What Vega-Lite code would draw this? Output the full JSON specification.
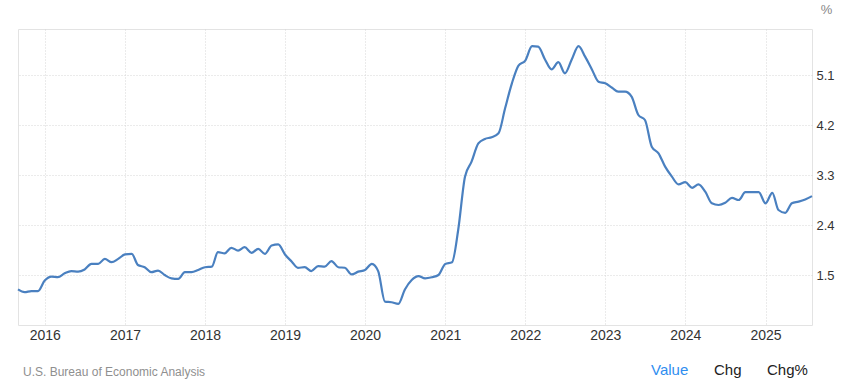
{
  "$schema": "https://vega.github.io/schema/vega-lite/v6.json",
  "width": 794,
  "height": 296,
  "autosize": {"type": "none"},
  "padding": {"left": 18, "top": 29, "right": 33, "bottom": 63},
  "background": "white",
  "config": {"view": {"stroke": "#e3e3e3"}, "font": "Liberation Sans"},
  "title": {"text": "U.S. Bureau of Economic Analysis", "orient": "bottom", "anchor": "start", "frame": "group", "dx": 5, "dy": -16, "offset": 5, "fontSize": 12, "fontWeight": "normal", "color": "#8f8f8f", "font": "Liberation Sans"},
  "data": {"values": [
    {"date": "2015-09-01", "value": 1.24}, {"date": "2015-10-01", "value": 1.19}, {"date": "2015-11-01", "value": 1.21}, {"date": "2015-12-01", "value": 1.21},
    {"date": "2016-01-01", "value": 1.40}, {"date": "2016-02-01", "value": 1.47}, {"date": "2016-03-01", "value": 1.46}, {"date": "2016-04-01", "value": 1.53},
    {"date": "2016-05-01", "value": 1.57}, {"date": "2016-06-01", "value": 1.56}, {"date": "2016-07-01", "value": 1.60}, {"date": "2016-08-01", "value": 1.70},
    {"date": "2016-09-01", "value": 1.70}, {"date": "2016-10-01", "value": 1.79}, {"date": "2016-11-01", "value": 1.73}, {"date": "2016-12-01", "value": 1.79},
    {"date": "2017-01-01", "value": 1.87}, {"date": "2017-02-01", "value": 1.88}, {"date": "2017-03-01", "value": 1.68}, {"date": "2017-04-01", "value": 1.64},
    {"date": "2017-05-01", "value": 1.55}, {"date": "2017-06-01", "value": 1.58}, {"date": "2017-07-01", "value": 1.50}, {"date": "2017-08-01", "value": 1.44},
    {"date": "2017-09-01", "value": 1.43}, {"date": "2017-10-01", "value": 1.55}, {"date": "2017-11-01", "value": 1.55}, {"date": "2017-12-01", "value": 1.59},
    {"date": "2018-01-01", "value": 1.64}, {"date": "2018-02-01", "value": 1.65}, {"date": "2018-03-01", "value": 1.91}, {"date": "2018-04-01", "value": 1.89},
    {"date": "2018-05-01", "value": 1.99}, {"date": "2018-06-01", "value": 1.94}, {"date": "2018-07-01", "value": 2.00}, {"date": "2018-08-01", "value": 1.90},
    {"date": "2018-09-01", "value": 1.97}, {"date": "2018-10-01", "value": 1.88}, {"date": "2018-11-01", "value": 2.03}, {"date": "2018-12-01", "value": 2.05},
    {"date": "2019-01-01", "value": 1.87}, {"date": "2019-02-01", "value": 1.74}, {"date": "2019-03-01", "value": 1.63}, {"date": "2019-04-01", "value": 1.64},
    {"date": "2019-05-01", "value": 1.57}, {"date": "2019-06-01", "value": 1.66}, {"date": "2019-07-01", "value": 1.65}, {"date": "2019-08-01", "value": 1.75},
    {"date": "2019-09-01", "value": 1.64}, {"date": "2019-10-01", "value": 1.63}, {"date": "2019-11-01", "value": 1.51}, {"date": "2019-12-01", "value": 1.56},
    {"date": "2020-01-01", "value": 1.59}, {"date": "2020-02-01", "value": 1.70}, {"date": "2020-03-01", "value": 1.57}, {"date": "2020-04-01", "value": 1.02},
    {"date": "2020-05-01", "value": 1.01}, {"date": "2020-06-01", "value": 0.98}, {"date": "2020-07-01", "value": 1.24}, {"date": "2020-08-01", "value": 1.41},
    {"date": "2020-09-01", "value": 1.48}, {"date": "2020-10-01", "value": 1.44}, {"date": "2020-11-01", "value": 1.46}, {"date": "2020-12-01", "value": 1.50},
    {"date": "2021-01-01", "value": 1.70}, {"date": "2021-02-01", "value": 1.73}, {"date": "2021-03-01", "value": 2.31}, {"date": "2021-04-01", "value": 3.27},
    {"date": "2021-05-01", "value": 3.54}, {"date": "2021-06-01", "value": 3.87}, {"date": "2021-07-01", "value": 3.95}, {"date": "2021-08-01", "value": 3.98},
    {"date": "2021-09-01", "value": 4.05}, {"date": "2021-10-01", "value": 4.50}, {"date": "2021-11-01", "value": 4.95}, {"date": "2021-12-01", "value": 5.27},
    {"date": "2022-01-01", "value": 5.36}, {"date": "2022-02-01", "value": 5.62}, {"date": "2022-03-01", "value": 5.61}, {"date": "2022-04-01", "value": 5.38},
    {"date": "2022-05-01", "value": 5.20}, {"date": "2022-06-01", "value": 5.33}, {"date": "2022-07-01", "value": 5.13}, {"date": "2022-08-01", "value": 5.38},
    {"date": "2022-09-01", "value": 5.62}, {"date": "2022-10-01", "value": 5.43}, {"date": "2022-11-01", "value": 5.20}, {"date": "2022-12-01", "value": 4.98},
    {"date": "2023-01-01", "value": 4.95}, {"date": "2023-02-01", "value": 4.87}, {"date": "2023-03-01", "value": 4.80}, {"date": "2023-04-01", "value": 4.80},
    {"date": "2023-05-01", "value": 4.71}, {"date": "2023-06-01", "value": 4.38}, {"date": "2023-07-01", "value": 4.29}, {"date": "2023-08-01", "value": 3.81},
    {"date": "2023-09-01", "value": 3.69}, {"date": "2023-10-01", "value": 3.45}, {"date": "2023-11-01", "value": 3.27}, {"date": "2023-12-01", "value": 3.13},
    {"date": "2024-01-01", "value": 3.17}, {"date": "2024-02-01", "value": 3.07}, {"date": "2024-03-01", "value": 3.13}, {"date": "2024-04-01", "value": 3.00},
    {"date": "2024-05-01", "value": 2.79}, {"date": "2024-06-01", "value": 2.76}, {"date": "2024-07-01", "value": 2.80}, {"date": "2024-08-01", "value": 2.89},
    {"date": "2024-09-01", "value": 2.85}, {"date": "2024-10-01", "value": 2.99}, {"date": "2024-11-01", "value": 2.99}, {"date": "2024-12-01", "value": 2.99},
    {"date": "2025-01-01", "value": 2.79}, {"date": "2025-02-01", "value": 2.98}, {"date": "2025-03-01", "value": 2.67}, {"date": "2025-04-01", "value": 2.62},
    {"date": "2025-05-01", "value": 2.79}, {"date": "2025-06-01", "value": 2.82}, {"date": "2025-07-01", "value": 2.86}, {"date": "2025-08-01", "value": 2.92}
  ]},
  "mark": {"type": "line", "interpolate": "monotone", "strokeWidth": 2.2},
  "encoding": {
    "x": {
      "field": "date", "type": "temporal",
      "scale": {"type": "utc", "domain": ["2015-09-01", "2025-08-01"], "nice": false},
      "axis": {"title": null, "format": "%Y", "tickCount": {"interval": "year", "step": 1}, "ticks": false, "domain": false, "labelPadding": 3, "labelFontSize": 14, "labelColor": "#333", "labelFont": "Liberation Sans", "labelOverlap": false, "labelFlush": false, "gridColor": "#d6d6d6", "gridDash": [1, 2]}
    },
    "y": {
      "field": "value", "type": "quantitative",
      "scale": {"domain": [0.6, 5.928], "zero": false, "nice": false},
      "axis": {"orient": "right", "values": [1.5, 2.4, 3.3, 4.2, 5.1], "format": ".1f", "ticks": false, "domain": false, "labelPadding": 4, "labelFontSize": 13, "labelColor": "#333", "labelFont": "Liberation Sans", "gridColor": "#d6d6d6", "gridDash": [1, 2], "title": "%", "titleAngle": 0, "titleX": 14, "titleY": -20, "titleAlign": "center", "titleBaseline": "middle", "titleColor": "#888", "titleFontSize": 13, "titleFontWeight": "normal", "titleFont": "Liberation Sans"}
    },
    "color": {
      "datum": "Value", "type": "nominal",
      "scale": {"domain": ["Value", "Chg", "Chg%"], "range": ["#4a80c0", "#4a80c0", "#4a80c0"]},
      "legend": {"orient": "none", "legendX": 618, "legendY": 333, "direction": "horizontal", "title": null, "symbolSize": 0, "symbolStrokeWidth": 0, "symbolOpacity": 0, "labelOffset": 0, "columnPadding": 10, "labelFontSize": 15, "labelFont": "Liberation Sans", "labelColor": "#222", "encode": {"labels": {"update": {"fill": {"signal": "datum.label === 'Value' ? '#2f8ef0' : '#222'"}}}}}
    }
  }
}
